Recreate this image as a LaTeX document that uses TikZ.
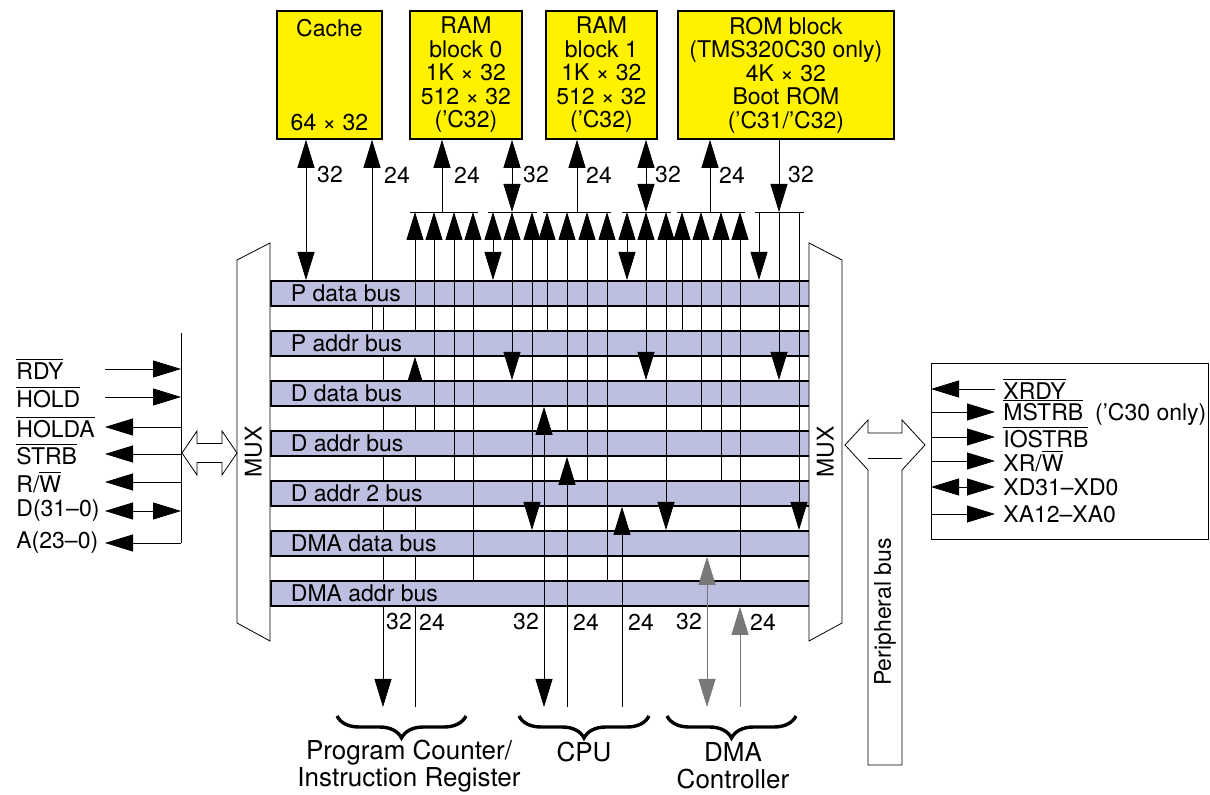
\documentclass[tikz,border=0pt]{standalone}
\usepackage{fontspec}
\setmainfont{TeX Gyre Heros}
\usetikzlibrary{arrows.meta,decorations.pathreplacing}
\pgfdeclarelayer{bg}
\pgfsetlayers{bg,main}
\definecolor{memyellow}{RGB}{255,242,0}
\definecolor{busblue}{RGB}{188,191,223}
\definecolor{dmagray}{RGB}{120,120,120}
\newcommand{\ovl}[1]{$\overline{\mbox{#1}}$}

\begin{document}
\begin{tikzpicture}[x=0.5pt,y=-0.5pt,line width=0.9pt,
  >={Triangle[length=14pt,width=8.5pt]},
  every node/.style={font=\fontsize{11.5}{11.75}\selectfont,inner sep=1pt},
  membox/.style={draw,fill=memyellow,anchor=north west,align=center,inner sep=0pt,minimum height=64pt},
  busrow/.style={draw,fill=busblue,anchor=north west,inner sep=0pt,minimum width=269.5pt,minimum height=12.5pt},
  buslabel/.style={anchor=west},
  muxbox/.style={draw,fill=white},
  sigin/.style={->},sigout/.style={<-},sigio/.style={<->},
  dmaline/.style={draw=dmagray},
  unitbrace/.style={decorate,decoration={brace,mirror,amplitude=11pt},line width=1.7pt},
  unitlabel/.style={align=center,font=\fontsize{13}{13.5}\selectfont}]
\useasboundingbox (0,0) rectangle (1210,795);

% memory blocks
\node[membox,minimum width=52.5pt] (cache) at (276,10) {Cache\\[35.25pt]64 × 32};
\node[membox,minimum width=56pt] (ram0) at (409,10) {RAM\\block 0\\1K × 32\\512 × 32\\('C32)};
\node[membox,minimum width=55.5pt] (ram1) at (545,10) {RAM\\block 1\\1K × 32\\512 × 32\\('C32)};
\node[membox,minimum width=108pt] (rom) at (677,10) {ROM block\\(TMS320C30 only)\\4K × 32\\Boot ROM\\('C31/'C32)};

% buses
\foreach \nm/\y/\lab in {pd/280/P data bus,pa/330/P addr bus,dd/380/D data bus,da/430/D addr bus,
    d2/480/D addr 2 bus,md/530/DMA data bus,ma/580/DMA addr bus}
{
  \node[busrow] (\nm) at (270,\y) {};
  \node[buslabel] at ([xshift=9pt]\nm.west) {\lab};
}
\coordinate (bot) at (0,707);

% lines passing behind the buses
\begin{pgfonlayer}{bg}
\draw[->] (372,0 |- pa.north) -- (372,0 |- cache.south);
\draw[->] (383,0 |- pd.south) -- (383,0 |- bot);
\draw[->] (415,0 |- bot) -- (415,0 |- pa.south);
\end{pgfonlayer}

% memory ports
\draw[<->] (306,0 |- cache.south) -- (306,0 |- pd.north);
\draw[->] (442,212) -- (442,0 |- ram0.south);
\draw[<->] (512,212) -- (512,0 |- ram0.south);
\draw[->] (577,212) -- (577,0 |- ram1.south);
\draw[<->] (646,212) -- (646,0 |- ram1.south);
\draw[->] (710,212) -- (710,0 |- rom.south);
\draw[->] (779,0 |- rom.south) -- (779,212);
\foreach \x/\w in {330/32,397/24,467/24,536/32,599/24,668/32,732/24,801/32}
  \node at (\x,175) {\w};

% taps onto the buses
\foreach \a/\b in {410/478,488/537,543/611,622/671,677/745,755/804}
  \draw (\a,212) -- (\b,212);
\foreach \x/\b in {415/pa,434/da,454/d2,473/ma,547/pa,567/da,587/d2,607/ma,682/pa,701/da,721/d2,740/ma}
  \draw[<-] (\x,212) -- (\x,0 |- \b.north);
\foreach \x/\b in {493/pd,512/dd,532/md,627/pd,646/dd,666/md}
  \draw[<->] (\x,212) -- (\x,0 |- \b.north);
\foreach \x/\b in {759/pd,779/dd,799/md}
  \draw[->] (\x,212) -- (\x,0 |- \b.north);

% CPU and DMA ports
\draw[<->] (544,0 |- dd.south) -- (544,0 |- bot);
\draw[->] (567,0 |- bot) -- (567,0 |- da.south);
\draw[->] (622,0 |- bot) -- (622,0 |- d2.south);
\draw[dmaline,<->] (707,0 |- md.south) -- (707,0 |- bot);
\draw[dmaline,->] (740,0 |- bot) -- (740,0 |- ma.south);
\foreach \x/\w in {399/32,432/24,526/32,586/24,641/24,689/32,763/24}
  \node at (\x,622) {\w};

% units
\draw[unitbrace] (337,716) -- (466,716);
\draw[unitbrace] (519,716) -- (649,716);
\draw[unitbrace] (667,716) -- (796,716);
\node[unitlabel] (pcir) at (409,766) {Program Counter/\\Instruction Register};
\node[unitlabel] (cpu) at (584,752) {CPU};
\node[unitlabel] (dmac) at (733,766) {DMA\\Controller};

% multiplexers
\draw[muxbox] (237,260) -- (270,243) -- (270,641) -- (237,623) -- cycle;
\draw[muxbox] (809,243) -- (842,260) -- (842,623) -- (809,641) -- cycle;
\node[rotate=90] (muxl) at (253.5,452) {MUX};
\node[rotate=90] (muxr) at (825.5,452) {MUX};

% primary bus interface
\coordinate (lv) at (181,0);
\draw (181,333) -- (181,543);
\foreach \y/\lab/\dir in {369/{\ovl{RDY}}/sigin,397/{\ovl{HOLD}}/sigin,427/{\ovl{HOLDA}}/sigout,
    454/{\ovl{STRB}}/sigout,482/{R/\ovl{W}}/sigout,511/{D(31–0)}/sigio,543/{A(23–0)}/sigout}
{
  \node[anchor=west] at (14,\y) {\lab};
  \draw[\dir] (105,\y) -- (lv |- 0,\y);
}
\draw[fill=white] (182,453) -- (197,431) -- (197,443.5) -- (222,443.5) -- (222,431) -- (237,453)
  -- (222,475) -- (222,462.5) -- (197,462.5) -- (197,475) -- cycle;

% expansion bus interface
\draw[fill=white] (845,445) -- (868,420) -- (868,433) -- (902,433) -- (902,420) -- (925,445)
  -- (902,470) -- (902,765) -- (868,765) -- (868,470) -- cycle;
\draw (868,458) -- (902,458);
\node[rotate=90] (pbus) at (885,612) {Peripheral bus};
\node[draw,anchor=north west,inner sep=0pt,minimum width=138.5pt,minimum height=88pt] (ext) at (931,363) {};
\foreach \y/\lab/\dir in {389/{\ovl{XRDY}}/sigout,412/{\ovl{MSTRB}\hspace{6pt}('C30 only)}/sigin,
    437/{\ovl{IOSTRB}}/sigin,461/{XR/\ovl{W}}/sigin,487/{XD31–XD0}/sigio,514/{XA12–XA0}/sigin}
{
  \draw[\dir] (ext.west |- 0,\y) -- (995,\y);
  \node[anchor=west] at (1001,\y) {\lab};
}
\end{tikzpicture}
\end{document}
